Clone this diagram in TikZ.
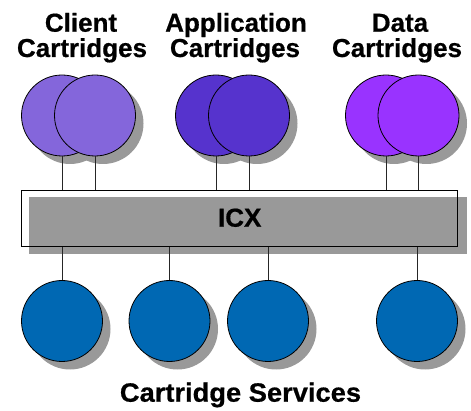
\documentclass[tikz,border=0pt]{standalone}
\usepackage{fontspec}
\setmainfont{Liberation Sans}[BoldFeatures={FakeBold=0.6}]
\begin{document}
\begin{tikzpicture}[x=1pt,y=-1pt,
  every node/.style={font=\fontsize{26}{25}\selectfont\bfseries},
  cart/.style={circle,draw=black,line width=0.8pt,minimum size=81pt,inner sep=0pt},
  link/.style={draw=black!85,line width=0.9pt},
  lbl/.style={anchor=base,inner sep=0pt}]
\definecolor{shadowgray}{HTML}{999999}
\definecolor{clientcol}{HTML}{8466DB}
\definecolor{appcol}{HTML}{5633CD}
\definecolor{datacol}{HTML}{9933FF}
\definecolor{servcol}{HTML}{0068B3}
\useasboundingbox (0,0) rectangle (471,411);

% labels above the cartridge groups
\node[lbl] (lc1) at (81,31.7) {Client};
\node[lbl] (lc2) at (82,57) {Cartridges};
\node[lbl] (la1) at (236,31.7) {Application};
\node[lbl] (la2) at (235,57) {Cartridges};
\node[lbl] (ld1) at (400,31.7) {Data};
\node[lbl] (ld2) at (397,57) {Cartridges};

% drop shadows of the cartridge circles
\foreach \x in {62,95,216,249,386,418.5}
  \fill[shadowgray] (\x+8,123.5) circle (40.5);
\foreach \x in {62,169.5,268,417}
  \fill[shadowgray] (\x+8,329) circle (40.5);

% client, application and data cartridges (back, then front)
\node[cart,fill=clientcol] (cb) at (62,115.5) {};
\node[cart,fill=clientcol] (cf) at (95,115.5) {};
\node[cart,fill=appcol] (ab) at (216,115.5) {};
\node[cart,fill=appcol] (af) at (249,115.5) {};
\node[cart,fill=datacol] (db) at (386,115.5) {};
\node[cart,fill=datacol] (df) at (418.5,115.5) {};

% ICX bus: white box, its shadow, then the outline and label
\fill[white] (21,190) rectangle (457.7,246.7);
\fill[shadowgray] (29.3,196.7) rectangle (466.7,254.3);
\node[draw=black,line width=0.8pt,minimum width=436.7pt,minimum height=56.7pt,inner sep=0pt] (icx) at (239.35,218.35) {};
\node[lbl] (icxlbl) at (239.7,226.7) {ICX};

% cartridge services
\node[cart,fill=servcol] (s1) at (62,321) {};
\node[cart,fill=servcol] (s2) at (169.5,321) {};
\node[cart,fill=servcol] (s3) at (268,321) {};
\node[cart,fill=servcol] (s4) at (417,321) {};
\node[lbl,font=\fontsize{26.5}{25}\selectfont\bfseries,xscale=1.03] (ls) at (240.5,401.7) {Cartridge Services};

% connections to the bus
\foreach \n in {cb,cf,ab,af,db,df}
  \draw[link] (\n.south) -- (\n.south |- icx.north);
\foreach \n in {s1,s2,s3,s4}
  \draw[link] (\n.north |- icx.south) -- (\n.north);
\end{tikzpicture}
\end{document}
